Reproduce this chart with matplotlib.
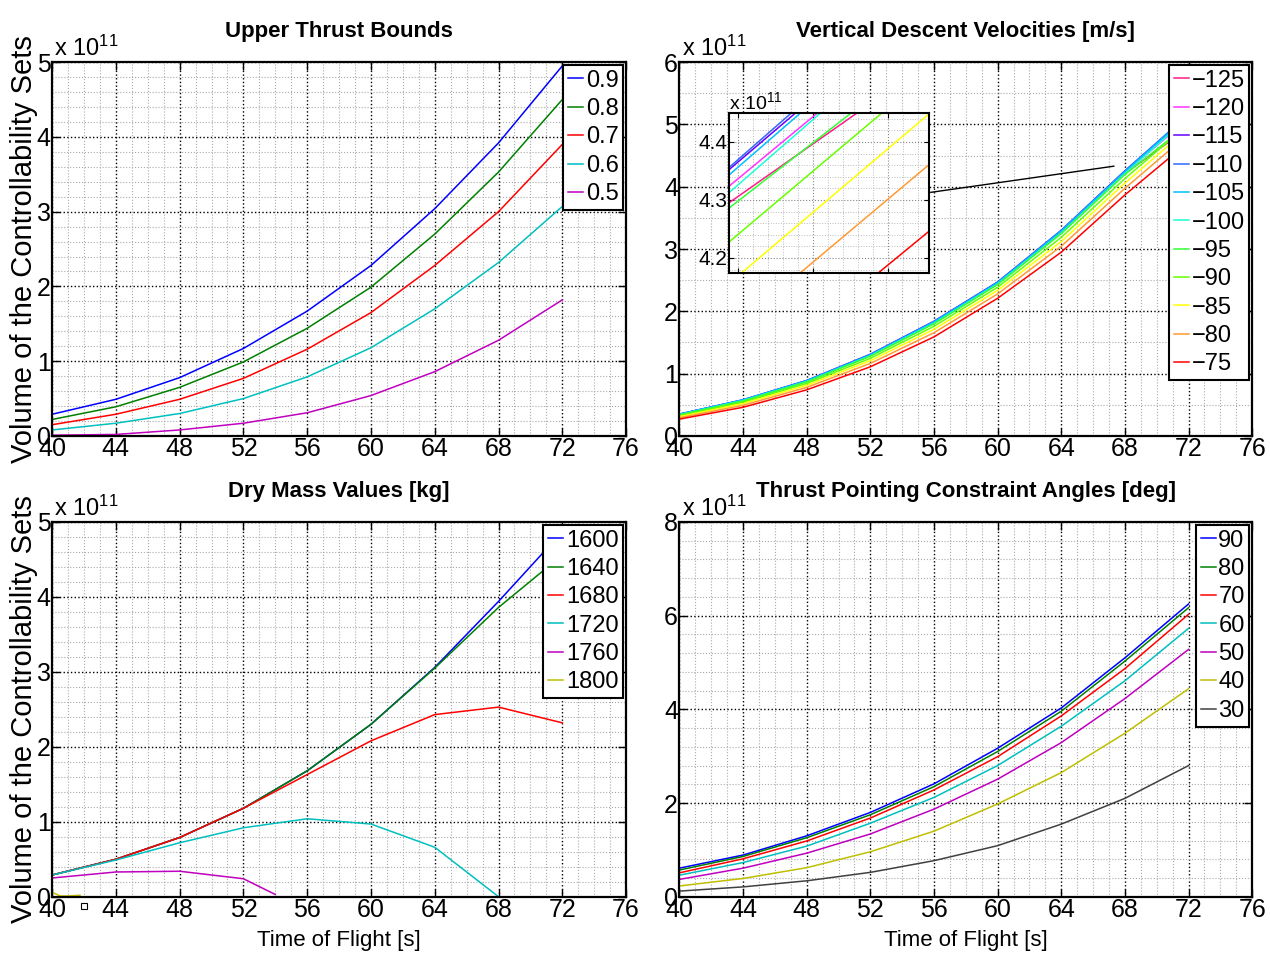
import matplotlib
matplotlib.use('Agg')
import matplotlib.pyplot as plt
from matplotlib.ticker import MultipleLocator

plt.rcParams['font.family'] = ['Liberation Sans', 'DejaVu Sans']
plt.rcParams['mathtext.fontset'] = 'custom'
plt.rcParams['mathtext.rm'] = 'Liberation Sans'
plt.rcParams['mathtext.it'] = 'Liberation Sans'

# время полёта
tof = [40, 44, 48, 52, 56, 60, 64, 68, 72]

# Upper Thrust Bounds (x 1e11)
thrust_labels = ['0.9', '0.8', '0.7', '0.6', '0.5']
thrust_vals = [
    [0.29, 0.49, 0.78, 1.17, 1.67, 2.28, 3.04, 3.92, 4.95],
    [0.22, 0.39, 0.65, 0.99, 1.44, 1.99, 2.70, 3.53, 4.50],
    [0.15, 0.29, 0.49, 0.77, 1.16, 1.65, 2.28, 3.00, 3.90],
    [0.08, 0.17, 0.30, 0.50, 0.79, 1.18, 1.70, 2.32, 3.07],
    [0.01, 0.02, 0.08, 0.17, 0.31, 0.54, 0.86, 1.28, 1.82],
]
thrust_colors = ['#0000ff', '#008000', '#ff0000', '#00bfbf', '#bf00bf']

# Vertical Descent Velocities
vel_labels = ['\u2212125', '\u2212120', '\u2212115', '\u2212110', '\u2212105', '\u2212100',
              '\u221295', '\u221290', '\u221285', '\u221280', '\u221275']
vel_vals = [
    [0.342, 0.567, 0.874, 1.289, 1.81, 2.44, 3.263, 4.215, 4.943],
    [0.344, 0.572, 0.880, 1.296, 1.82, 2.45, 3.275, 4.229, 5.089],
    [0.350, 0.580, 0.890, 1.310, 1.84, 2.47, 3.300, 4.255, 5.139],
    [0.350, 0.580, 0.890, 1.310, 1.84, 2.47, 3.300, 4.256, 5.164],
    [0.350, 0.580, 0.885, 1.300, 1.83, 2.46, 3.290, 4.244, 5.144],
    [0.341, 0.567, 0.873, 1.288, 1.81, 2.44, 3.260, 4.213, 5.117],
    [0.338, 0.562, 0.868, 1.280, 1.80, 2.43, 3.248, 4.197, 5.005],
    [0.324, 0.542, 0.842, 1.246, 1.76, 2.387, 3.188, 4.131, 5.007],
    [0.309, 0.519, 0.813, 1.208, 1.712, 2.337, 3.121, 4.059, 4.939],
    [0.292, 0.492, 0.780, 1.164, 1.657, 2.280, 3.045, 3.975, 4.847],
    [0.270, 0.460, 0.740, 1.110, 1.590, 2.210, 2.950, 3.869, 4.721],
]
vel_colors = ['#ff1a8c', '#ff33ff', '#6600ff', '#3366ff', '#00bfff', '#1affd5',
              '#33ff33', '#66ff00', '#ffff00', '#ff9933', '#ff0000']
inset_xlim = (68.44, 69.77)
inset_ylim = (4.174, 4.45)
pointer_x = [55.8, 67.3]
pointer_y = [3.91, 4.33]

# Dry Mass Values
mass_labels = ['1600', '1640', '1680', '1720', '1760', '1800']
mass_x = [tof, tof, tof, tof[:8], [40, 44, 48, 52, 54], [40, 40.5, 41, 41.75]]
mass_vals = [
    [0.29, 0.50, 0.79, 1.18, 1.68, 2.30, 3.06, 3.94, 4.87],
    [0.29, 0.50, 0.79, 1.18, 1.68, 2.30, 3.05, 3.86, 4.56],
    [0.29, 0.50, 0.79, 1.18, 1.63, 2.08, 2.43, 2.53, 2.32],
    [0.29, 0.49, 0.72, 0.92, 1.04, 0.97, 0.66, 0.0],
    [0.25, 0.33, 0.34, 0.24, 0.03],
    [0.06, 0.01, 0.01, 0.02],
]
mass_colors = ['#0000ff', '#008000', '#ff0000', '#00bfbf', '#bf00bf', '#bfbf00']
stray_x = [42]
stray_y = [-0.13]

# Thrust Pointing Constraint Angles
angle_labels = ['90', '80', '70', '60', '50', '40', '30']
angle_vals = [
    [0.61, 0.89, 1.30, 1.80, 2.41, 3.17, 4.03, 5.10, 6.25],
    [0.57, 0.86, 1.26, 1.75, 2.35, 3.10, 3.96, 5.03, 6.17],
    [0.51, 0.81, 1.19, 1.68, 2.28, 2.99, 3.86, 4.87, 6.03],
    [0.46, 0.73, 1.08, 1.57, 2.12, 2.80, 3.64, 4.61, 5.73],
    [0.37, 0.61, 0.93, 1.34, 1.87, 2.51, 3.29, 4.23, 5.28],
    [0.23, 0.39, 0.62, 0.96, 1.40, 1.98, 2.65, 3.49, 4.44],
    [0.12, 0.21, 0.34, 0.52, 0.77, 1.09, 1.55, 2.10, 2.80],
]
angle_colors = ['#0000ff', '#008000', '#ff0000', '#00bfbf', '#bf00bf', '#bfbf00', '#404040']


def style_axes(ax, ymax, ymajor, yminor, title):
    ax.set_xlim(40, 76)
    ax.set_ylim(0, ymax)
    ax.xaxis.set_major_locator(MultipleLocator(4))
    ax.xaxis.set_minor_locator(MultipleLocator(1))
    ax.yaxis.set_major_locator(MultipleLocator(ymajor))
    ax.yaxis.set_minor_locator(MultipleLocator(yminor))
    ax.grid(which='major', color='k', linestyle=':', linewidth=1.0)
    ax.grid(which='minor', color='#aaaaaa', linestyle=':', linewidth=0.8)
    ax.set_axisbelow(True)
    ax.tick_params(which='both', direction='in', top=True, right=True, labelsize=18, pad=1)
    ax.tick_params(which='major', length=6, width=1)
    ax.tick_params(which='minor', length=0)
    for s in ax.spines.values():
        s.set_linewidth(1.6)
    ax.set_title(title, fontsize=16, fontweight='bold', pad=18)
    ax.text(0.004, 1.004, r'x 10$^{11}$', transform=ax.transAxes, fontsize=17,
            ha='left', va='bottom')


def add_legend(ax, fs=17):
    leg = ax.legend(loc='upper right', fontsize=fs, handlelength=0.65, handletextpad=0.1,
                    borderpad=0.2, labelspacing=0.27, borderaxespad=0.12, fancybox=False,
                    framealpha=1, edgecolor='k')
    leg.get_frame().set_linewidth(1.5)


fig = plt.figure(figsize=(12.7, 9.56), dpi=100)
ax1 = fig.add_axes([0.041, 0.544, 0.452, 0.391])
ax2 = fig.add_axes([0.535, 0.544, 0.451, 0.391])
ax3 = fig.add_axes([0.041, 0.062, 0.452, 0.392])
ax4 = fig.add_axes([0.535, 0.062, 0.451, 0.392])

# верх-лево
for vals, lab, c in zip(thrust_vals, thrust_labels, thrust_colors):
    ax1.plot(tof, vals, color=c, linewidth=1.1, label=lab)
style_axes(ax1, 5, 1, 0.2, 'Upper Thrust Bounds')
add_legend(ax1)
ax1.set_ylabel('Volume of the Controllability Sets', fontsize=21, labelpad=-1)

# верх-право
for vals, lab, c in zip(vel_vals, vel_labels, vel_colors):
    ax2.plot(tof, vals, color=c, linewidth=1.1, label=lab)
style_axes(ax2, 6, 1, 0.5, 'Vertical Descent Velocities [m/s]')
add_legend(ax2)
ax2.plot(pointer_x, pointer_y, color='k', linewidth=1.0)

axi = fig.add_axes([0.574, 0.7144, 0.1575, 0.1674])
for vals, c in zip(vel_vals, vel_colors):
    axi.plot(tof, vals, color=c, linewidth=1.1)
axi.set_xlim(*inset_xlim)
axi.set_ylim(*inset_ylim)
axi.yaxis.set_major_locator(MultipleLocator(0.1))
axi.yaxis.set_minor_locator(MultipleLocator(0.02))
axi.xaxis.set_major_locator(MultipleLocator(0.5))
axi.xaxis.set_minor_locator(MultipleLocator(0.1))
axi.grid(which='major', color='#888888', linestyle=':', linewidth=0.8)
axi.grid(which='minor', color='#bbbbbb', linestyle=':', linewidth=0.7)
axi.tick_params(which='both', direction='in', top=True, right=True, labelsize=15, pad=1,
                labelbottom=False)
axi.tick_params(which='minor', length=0)
for s in axi.spines.values():
    s.set_linewidth(1.5)
axi.text(0.0, 1.0, r'x 10$^{11}$', transform=axi.transAxes, fontsize=14,
         ha='left', va='bottom')

# низ-лево
for xs, vals, lab, c in zip(mass_x, mass_vals, mass_labels, mass_colors):
    ax3.plot(xs, vals, color=c, linewidth=1.1, label=lab)
style_axes(ax3, 5, 1, 0.2, 'Dry Mass Values [kg]')
add_legend(ax3)
ax3.plot(stray_x, stray_y, 's', mfc='none', mec='k', ms=4, mew=0.8, clip_on=False)
ax3.set_ylabel('Volume of the Controllability Sets', fontsize=21, labelpad=-1)
ax3.set_xlabel('Time of Flight [s]', fontsize=16, labelpad=6)

# низ-право
for vals, lab, c in zip(angle_vals, angle_labels, angle_colors):
    ax4.plot(tof, vals, color=c, linewidth=1.1, label=lab)
style_axes(ax4, 8, 2, 0.4, 'Thrust Pointing Constraint Angles [deg]')
add_legend(ax4)
ax4.set_xlabel('Time of Flight [s]', fontsize=16, labelpad=6)

fig.savefig('out.png', dpi=100)
